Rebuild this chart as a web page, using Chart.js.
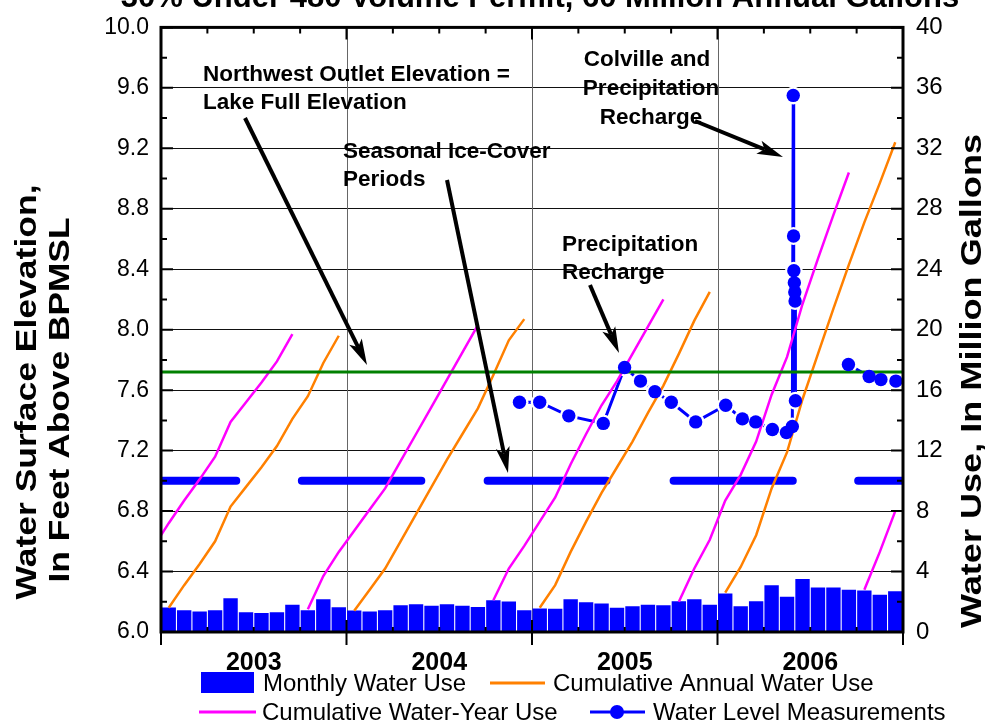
<!DOCTYPE html>
<html>
<head>
<meta charset="utf-8">
<script src="https://cdn.jsdelivr.net/npm/chart.js@4.4.1/dist/chart.umd.min.js"></script>
<style>
  body { margin: 0; background: #fff; }
  canvas { display: block; }
</style>
</head>
<body>
<canvas id="grafico" width="985" height="721"></canvas>
<script>
// Eje X en meses: 0 = 1 ene 2003, 48 = 1 ene 2007
const years = ['2003', '2004', '2005', '2006'];

// Uso mensual de agua (millones de galones), ene 2003 - dic 2006
const monthlyUse = [
  1.62, 1.44, 1.36, 1.44, 2.23, 1.31, 1.25, 1.31, 1.81, 1.44, 2.16, 1.64,
  1.42, 1.36, 1.44, 1.77, 1.84, 1.73, 1.84, 1.73, 1.66, 2.10, 2.01, 1.44,
  1.55, 1.53, 2.16, 1.97, 1.88, 1.60, 1.70, 1.81, 1.77, 2.03, 2.16, 1.81,
  2.54, 1.70, 2.03, 3.10, 2.34, 3.50, 2.95, 2.95, 2.80, 2.75, 2.47, 2.69
];

// Uso acumulado por año calendario (ene - dic)
const annualCum2003 = [1.6, 3.1, 4.5, 6.0, 8.3, 9.6, 10.9, 12.3, 14.1, 15.6, 17.8, 19.6];
const annualCum2004 = [1.4, 2.8, 4.2, 6.0, 7.8, 9.6, 11.4, 13.1, 14.8, 17.0, 19.3, 20.7];
const annualCum2005 = [1.6, 3.1, 5.3, 7.3, 9.2, 10.9, 12.6, 14.5, 16.3, 18.4, 20.6, 22.5];
const annualCum2006 = [2.6, 4.3, 6.4, 9.5, 11.9, 15.4, 18.4, 21.4, 24.3, 27.1, 29.7, 32.4];

// Uso acumulado por año hidrológico (oct - sep); primer mes de cada serie
const waterYearStart = [-1, 9, 21, 33, 45];
const waterYear2003 = [5.6, 7.2, 8.7, 10.1, 11.6, 13.9, 15.2, 16.5, 17.9, 19.7];
const waterYear2004 = [1.5, 3.7, 5.3, 6.7, 8.1, 9.5, 11.3, 13.1, 14.9, 16.7, 18.5, 20.3];
const waterYear2005 = [2.1, 4.2, 5.7, 7.3, 8.9, 11.1, 13.1, 15.0, 16.6, 18.4, 20.2, 22.0];
const waterYear2006 = [2.0, 4.2, 6.1, 8.7, 10.4, 12.6, 15.7, 18.2, 21.7, 24.7, 27.6, 30.4];
const waterYear2007 = [2.8, 5.3, 8.0];

// Mediciones de nivel del agua (mes decimal, pies sobre BPMSL); null = sin línea
const levelMonth = [23.19, 24.50, 26.38, 28.61, 29.99, 31.02, 31.95, 33.01, 34.59, 36.53,
  37.61, 38.47, 39.55, 40.46, 40.84, 40.90, 40.92, 40.94, 40.97, 41.00, 41.02, 41.04,
  42.0, 44.47, 45.81, 46.57, 47.54];
const levelFeet = [7.52, 7.52, 7.43, 7.38, 7.75, 7.66, 7.59, 7.52, 7.39, 7.50,
  7.41, 7.39, 7.34, 7.32, 7.36, 9.55, 8.62, 8.39, 8.31, 8.25, 8.19, 7.53,
  null, 7.77, 7.69, 7.67, 7.66];

// Periodos de cubierta de hielo (mes decimal inicio / fin)
const iceStart = [-2, 9.11, 21.13, 33.16, 45.1];
const iceEnd = [4.87, 16.84, 28.82, 40.87, 50];
const iceLevel = 7.0;

// Elevación de la salida noroeste = lago lleno
const outletElevation = 7.72;

const FONT = 'Arial, "Liberation Sans", sans-serif';

const serie = (listas, inicios) => {
  const puntos = [];
  listas.forEach((arr, k) => {
    arr.forEach((v, j) => puntos.push({ x: inicios[k] + j + 0.5, y: v }));
    puntos.push({ x: inicios[k] + arr.length, y: null });
  });
  return puntos;
};

const barras = monthlyUse.map((v, i) => ({ x: i + 0.5, y: v }));
const anual = serie([annualCum2003, annualCum2004, annualCum2005, annualCum2006], [0, 12, 24, 36]);
const hidro = serie([waterYear2003, waterYear2004, waterYear2005, waterYear2006, waterYear2007], waterYearStart);
const niveles = levelMonth.map((m, i) => ({ x: m, y: levelFeet[i] }));
const hielo = [];
iceStart.forEach((s, i) => {
  hielo.push({ x: s, y: iceLevel }, { x: iceEnd[i], y: iceLevel }, { x: iceEnd[i] + 0.1, y: null });
});
const salida = [{ x: 0, y: outletElevation }, { x: 48, y: outletElevation }];

const flecha = (ctx, x1, y1, x2, y2) => {
  const ang = Math.atan2(y2 - y1, x2 - x1);
  const largo = 26, ancho = 7;
  const bx = x2 - largo * Math.cos(ang), by = y2 - largo * Math.sin(ang);
  ctx.lineWidth = 4;
  ctx.beginPath();
  ctx.moveTo(x1, y1);
  ctx.lineTo(bx + 6 * Math.cos(ang), by + 6 * Math.sin(ang));
  ctx.stroke();
  ctx.beginPath();
  ctx.moveTo(x2, y2);
  ctx.lineTo(bx - ancho * Math.sin(ang), by + ancho * Math.cos(ang));
  ctx.lineTo(bx + 6 * Math.cos(ang), by + 6 * Math.sin(ang));
  ctx.lineTo(bx + ancho * Math.sin(ang), by - ancho * Math.cos(ang));
  ctx.closePath();
  ctx.fill();
};

const decoracion = {
  id: 'decoracion',
  beforeDatasetsDraw(chart) {
    const { ctx, chartArea: a, scales } = chart;
    ctx.save();
    ctx.strokeStyle = '#666';
    ctx.lineWidth = 1;
    [12, 24, 36].forEach(m => {
      const x = Math.round(scales.x.getPixelForValue(m)) + 0.5;
      ctx.beginPath(); ctx.moveTo(x, a.top); ctx.lineTo(x, a.bottom); ctx.stroke();
    });
    ctx.restore();
  },
  afterDraw(chart) {
    const { ctx, chartArea: a, scales } = chart;
    ctx.save();
    ctx.strokeStyle = '#000';
    ctx.fillStyle = '#000';
    // marcas de los ejes
    ctx.lineWidth = 2;
    for (let m = 0; m <= 48; m += 3) {
      const x = scales.x.getPixelForValue(m);
      const anio = m % 12 === 0;
      ctx.beginPath();
      ctx.moveTo(x, a.bottom + (anio ? 13 : 0)); ctx.lineTo(x, a.bottom - (anio ? 12 : 5));
      ctx.moveTo(x, a.top); ctx.lineTo(x, a.top + (anio ? 12 : 6));
      ctx.stroke();
    }
    for (let k = 0; k <= 20; k++) {
      const y = scales.y.getPixelForValue(6 + k * 0.2);
      const l = k % 2 === 0 ? 12 : 6;
      ctx.beginPath();
      ctx.moveTo(a.left, y); ctx.lineTo(a.left + l, y);
      ctx.moveTo(a.right, y); ctx.lineTo(a.right - l, y);
      ctx.stroke();
    }
    ctx.lineWidth = 3;
    ctx.strokeRect(a.left, a.top, a.right - a.left, a.bottom - a.top);

    // título superior (recortado en el original)
    ctx.font = 'bold 31px ' + FONT;
    ctx.textAlign = 'center';
    ctx.fillText('30% Under 480 Volume Permit, 60 Million Annual Gallons', 540, 7);

    // títulos de los ejes: texto vertical estirado hasta el largo del original
    const vertical = (txt, x, y, size, largo) => {
      ctx.save();
      ctx.font = 'bold ' + size + 'px ' + FONT;
      const k = largo / ctx.measureText(txt).width;
      ctx.translate(x, y);
      ctx.rotate(-Math.PI / 2);
      ctx.scale(k, 1);
      ctx.textAlign = 'center';
      ctx.fillText(txt, 0, 0);
      ctx.restore();
    };
    vertical('Water Surface Elevation,', 36, 392, 30, 415);
    vertical('In Feet Above BPMSL', 69, 400, 30, 365);
    vertical('Water Use, In Million Gallons', 981, 381, 29, 494);

    // anotaciones
    ctx.font = 'bold 22.5px ' + FONT;
    ctx.textAlign = 'left';
    ctx.fillText('Northwest Outlet Elevation =', 203, 81);
    ctx.fillText('Lake Full Elevation', 203, 109);
    ctx.fillText('Seasonal Ice-Cover', 343, 158);
    ctx.fillText('Periods', 343, 186);
    ctx.fillText('Precipitation', 562, 251);
    ctx.fillText('Recharge', 562, 279);
    ctx.textAlign = 'center';
    ctx.fillText('Colville and', 647, 66);
    ctx.fillText('Precipitation', 651, 95);
    ctx.fillText('Recharge', 651, 124);
    flecha(ctx, 245, 118, 367, 365);
    flecha(ctx, 447, 180, 508, 473);
    flecha(ctx, 590, 285, 619, 353);
    flecha(ctx, 695, 121, 783, 157);

    // leyenda
    ctx.font = '24px ' + FONT;
    ctx.textAlign = 'left';
    ctx.fillStyle = '#0000ff';
    ctx.fillRect(201, 672, 53, 21);
    ctx.lineWidth = 3;
    ctx.strokeStyle = '#ff8000';
    ctx.beginPath(); ctx.moveTo(490, 683); ctx.lineTo(545, 683); ctx.stroke();
    ctx.strokeStyle = '#ff00ff';
    ctx.beginPath(); ctx.moveTo(199, 712); ctx.lineTo(256, 712); ctx.stroke();
    ctx.strokeStyle = '#0000ff';
    ctx.beginPath(); ctx.moveTo(590, 712); ctx.lineTo(645, 712); ctx.stroke();
    ctx.beginPath(); ctx.arc(617, 712, 7, 0, Math.PI * 2); ctx.fill();
    ctx.fillStyle = '#000';
    ctx.fillText('Monthly Water Use', 263, 691);
    ctx.fillText('Cumulative Annual Water Use', 553, 691);
    ctx.fillText('Cumulative Water-Year Use', 262, 720);
    ctx.fillText('Water Level Measurements', 653, 720);
    ctx.restore();
  }
};

new Chart(document.getElementById('grafico'), {
  type: 'bar',
  data: {
    datasets: [
      // marcadores de nivel (encima de todo)
      { type: 'line', label: 'Water Level Measurements', data: niveles, yAxisID: 'y',
        showLine: false, backgroundColor: '#0000ff', borderColor: '#0000ff',
        pointRadius: 6.7, pointBorderWidth: 0, order: 0 },
      { type: 'line', label: 'Lake Full', data: salida, yAxisID: 'y',
        borderColor: '#008000', borderWidth: 3, pointRadius: 0, order: 1, clip: 0 },
      { type: 'line', label: 'Cumulative Water-Year Use', data: hidro, yAxisID: 'y2',
        borderColor: '#ff00ff', borderWidth: 2.5, pointRadius: 0, spanGaps: false, order: 2, clip: 0 },
      { type: 'line', label: 'Cumulative Annual Water Use', data: anual, yAxisID: 'y2',
        borderColor: '#ff8000', borderWidth: 2.5, pointRadius: 0, spanGaps: false, order: 3, clip: 0 },
      // línea de nivel con hueco blanco alrededor de cada marcador
      { type: 'line', label: 'Water Level Line', data: niveles, yAxisID: 'y',
        borderColor: '#0000ff', borderWidth: 3, backgroundColor: '#ffffff',
        pointRadius: 9, pointBorderWidth: 0, spanGaps: false, order: 3.5 },
      { type: 'line', label: 'Ice Cover', data: hielo, yAxisID: 'y',
        borderColor: '#0000ff', borderWidth: 8, borderCapStyle: 'round', pointRadius: 0,
        spanGaps: false, order: 4, clip: 0 },
      { type: 'bar', label: 'Monthly Water Use', data: barras, yAxisID: 'y2',
        backgroundColor: '#0000ff', borderWidth: 0,
        barPercentage: 1, categoryPercentage: 0.93, order: 5 }
    ]
  },
  options: {
    responsive: false,
    animation: false,
    layout: { padding: { top: 22, left: 0, right: 0, bottom: 0 } },
    plugins: { legend: { display: false }, tooltip: { enabled: false } },
    scales: {
      x: {
        type: 'linear', min: 0, max: 48, offset: false,
        grid: { display: false, offset: false },
        border: { display: false },
        afterBuildTicks: s => { s.ticks = [6, 18, 30, 42].map(v => ({ value: v })); },
        afterFit: s => { s.height = 89; },
        ticks: {
          autoSkip: false, maxRotation: 0, padding: 8, color: '#000',
          font: { family: FONT, size: 25, weight: 'bold' },
          callback: v => years[Math.round((v - 6) / 12)]
        }
      },
      y: {
        position: 'left', min: 6, max: 10,
        grid: {
          drawTicks: false, lineWidth: 1,
          color: c => (c.tick.value > 6.01 && c.tick.value < 9.99) ? '#111' : 'rgba(0,0,0,0)'
        },
        border: { display: false },
        afterFit: s => { s.width = 161; },
        ticks: {
          stepSize: 0.4, padding: 12, color: '#000',
          font: { family: FONT, size: 23 },
          callback: v => v.toFixed(1)
        }
      },
      y2: {
        position: 'right', min: 0, max: 40,
        grid: { display: false, drawTicks: false },
        border: { display: false },
        afterFit: s => { s.width = 82; },
        ticks: {
          stepSize: 4, padding: 13, color: '#000',
          font: { family: FONT, size: 24 }
        }
      }
    }
  },
  plugins: [decoracion]
});
</script>
</body>
</html>
